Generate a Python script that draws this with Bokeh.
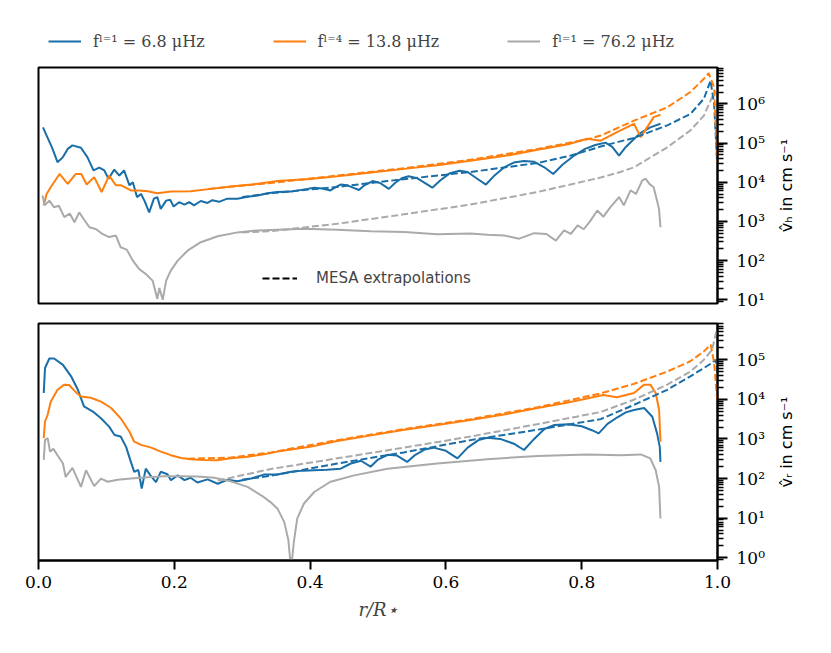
import math
from bokeh.plotting import figure
from bokeh.models import Range1d, FixedTicker, PrintfTickFormatter, CustomJSTickFormatter, Legend, LegendItem, Label
from bokeh.layouts import column, row
from bokeh.embed import file_html
from bokeh.resources import INLINE

# ---------------- data (log10 of velocity amplitude, cm/s) ----------------
# top panel: horizontal velocity
vh_b_r = [0.0066,0.012,0.02,0.028,0.036,0.043,0.050,0.0625,0.072,0.081,0.0895,0.097,0.103,0.1116,0.119,0.126,0.134,0.139,0.145,0.151,0.156,0.163,0.170,0.175,0.180,0.188,0.194,0.199,0.207,0.215,0.222,0.229,0.239,0.249,0.256,0.266,0.278,0.293,0.308,0.323,0.337,0.352,0.372,0.396,0.406,0.418,0.430,0.438,0.445,0.455,0.465,0.472,0.480,0.492,0.503,0.510,0.516,0.525,0.535,0.545,0.558,0.570,0.580,0.592,0.605,0.620,0.632,0.645,0.659,0.672,0.686,0.700,0.715,0.730,0.745,0.758,0.772,0.789,0.805,0.820,0.835,0.845,0.855,0.865,0.877,0.887,0.901,0.916]
vh_b_log = [5.40,5.19,4.88,4.51,4.64,4.85,4.94,4.88,4.64,4.30,4.37,4.30,4.09,4.32,4.17,4.30,3.92,4.00,3.62,3.70,3.53,3.23,3.58,3.62,3.32,3.53,3.55,3.38,3.49,3.43,3.49,3.41,3.52,3.47,3.54,3.50,3.58,3.58,3.63,3.66,3.72,3.75,3.76,3.83,3.86,3.84,3.79,3.88,3.94,3.92,3.85,3.80,3.92,4.03,3.98,3.90,3.83,3.98,4.10,4.15,4.10,3.97,3.86,4.05,4.22,4.29,4.26,4.10,3.94,4.18,4.38,4.50,4.54,4.52,4.38,4.21,4.45,4.68,4.85,4.95,5.01,4.90,4.68,4.90,5.10,5.26,5.40,5.49]
vh_b_mesa_r = [0.30,0.342,0.44,0.514,0.636,0.735,0.784,0.832,0.877,0.926,0.960,0.980,0.9897,0.995,0.9995]
vh_b_mesa_log = [3.62,3.72,3.88,4.03,4.26,4.49,4.68,4.93,5.13,5.45,5.74,6.13,6.59,6.00,4.50]

vh_o_r = [0.0077,0.012,0.018,0.031,0.043,0.055,0.063,0.071,0.082,0.093,0.104,0.114,0.122,0.136,0.148,0.161,0.175,0.195,0.224,0.254,0.283,0.313,0.352,0.40,0.44,0.49,0.539,0.59,0.636,0.69,0.735,0.78,0.808,0.828,0.852,0.877,0.887,0.906,0.916]
vh_o_log = [3.41,3.70,3.87,4.21,3.96,4.21,4.21,3.94,4.13,3.75,4.17,3.92,3.92,3.79,3.79,3.77,3.72,3.76,3.77,3.83,3.89,3.94,4.03,4.08,4.15,4.25,4.34,4.44,4.55,4.68,4.83,4.97,5.11,5.06,5.28,5.49,5.15,5.66,5.72]
vh_o_mesa_r = [0.25,0.342,0.44,0.539,0.636,0.735,0.81,0.828,0.877,0.926,0.960,0.980,0.987,0.995,0.9995]
vh_o_mesa_log = [3.83,3.98,4.17,4.36,4.57,4.85,5.10,5.19,5.57,5.91,6.30,6.64,6.78,6.42,4.50]

vh_g_r = [0.006,0.009,0.016,0.023,0.030,0.038,0.046,0.053,0.060,0.067,0.075,0.085,0.094,0.104,0.114,0.121,0.130,0.139,0.148,0.158,0.168,0.175,0.178,0.183,0.188,0.195,0.205,0.22,0.239,0.264,0.293,0.323,0.352,0.391,0.44,0.489,0.539,0.587,0.636,0.661,0.686,0.708,0.730,0.748,0.762,0.774,0.784,0.794,0.803,0.813,0.823,0.832,0.842,0.855,0.862,0.872,0.880,0.889,0.894,0.900,0.906,0.911,0.914,0.916]
vh_g_log = [3.66,3.41,3.53,3.36,3.40,3.11,3.20,2.98,3.23,3.05,2.85,2.80,2.68,2.60,2.64,2.34,2.28,2.00,1.79,1.66,1.49,1.02,1.30,1.00,1.49,1.75,2.00,2.26,2.47,2.62,2.72,2.77,2.79,2.81,2.79,2.75,2.73,2.67,2.69,2.66,2.64,2.56,2.70,2.68,2.51,2.77,2.68,2.90,2.80,3.02,3.28,3.12,3.36,3.62,3.41,3.79,3.70,4.04,4.09,3.95,3.87,3.53,3.30,2.85]
vh_g_mesa_r = [0.30,0.342,0.44,0.538,0.636,0.735,0.808,0.828,0.857,0.877,0.926,0.960,0.980,0.992,0.9995]
vh_g_mesa_log = [2.72,2.75,2.94,3.18,3.43,3.75,4.04,4.12,4.26,4.38,4.89,5.32,5.70,6.17,6.35]

# bottom panel: radial velocity
vr_b_r = [0.0077,0.0096,0.016,0.023,0.036,0.048,0.058,0.067,0.080,0.092,0.104,0.112,0.121,0.129,0.136,0.141,0.147,0.152,0.158,0.164,0.173,0.180,0.190,0.195,0.205,0.215,0.224,0.234,0.249,0.264,0.278,0.293,0.313,0.332,0.352,0.372,0.390,0.406,0.425,0.445,0.460,0.475,0.489,0.500,0.514,0.528,0.543,0.555,0.570,0.582,0.600,0.617,0.632,0.648,0.661,0.680,0.700,0.715,0.730,0.745,0.759,0.780,0.800,0.815,0.825,0.838,0.852,0.865,0.877,0.892,0.904,0.911,0.915,0.916]
vr_b_log = [4.16,4.79,5.03,5.03,4.87,4.58,4.24,3.82,3.69,3.52,3.31,3.10,3.06,2.80,2.42,2.17,2.22,1.75,2.25,2.10,1.91,2.17,2.11,1.96,2.08,1.96,2.02,1.90,1.98,1.87,1.97,1.93,2.00,2.10,2.10,2.17,2.20,2.21,2.22,2.25,2.38,2.45,2.30,2.48,2.60,2.58,2.42,2.60,2.74,2.78,2.70,2.51,2.78,2.97,3.03,3.00,2.88,2.72,3.00,3.25,3.35,3.37,3.32,3.22,3.14,3.38,3.54,3.67,3.73,3.78,3.56,3.14,2.80,2.42]
vr_b_mesa_r = [0.30,0.342,0.44,0.538,0.636,0.734,0.828,0.877,0.926,0.960,0.980,0.992,0.997,0.9995]
vr_b_mesa_log = [1.97,2.07,2.38,2.66,2.97,3.23,3.50,3.86,4.24,4.58,4.79,4.92,5.00,4.70]

vr_o_r = [0.0077,0.0096,0.0135,0.018,0.028,0.038,0.045,0.055,0.0625,0.077,0.092,0.107,0.121,0.134,0.141,0.151,0.166,0.180,0.195,0.210,0.224,0.244,0.263,0.283,0.308,0.332,0.352,0.40,0.44,0.49,0.539,0.59,0.636,0.69,0.735,0.78,0.832,0.852,0.877,0.892,0.901,0.909,0.914,0.916]
vr_o_log = [3.02,3.44,3.61,3.94,4.24,4.37,4.36,4.18,4.07,4.04,3.94,3.78,3.52,3.18,2.93,2.85,2.78,2.68,2.59,2.52,2.49,2.47,2.46,2.51,2.55,2.61,2.68,2.80,2.95,3.09,3.23,3.36,3.48,3.63,3.78,3.92,4.11,4.05,4.16,4.37,4.37,4.16,3.73,2.93]
vr_o_mesa_r = [0.22,0.283,0.342,0.44,0.539,0.636,0.735,0.828,0.877,0.926,0.960,0.980,0.990,0.995,0.9995]
vr_o_mesa_log = [2.50,2.53,2.66,2.97,3.25,3.50,3.80,4.15,4.39,4.70,4.96,5.21,5.38,4.92,3.99]

vr_g_r = [0.0077,0.0096,0.0135,0.017,0.022,0.028,0.036,0.040,0.050,0.0625,0.070,0.082,0.092,0.102,0.1166,0.136,0.161,0.185,0.210,0.234,0.259,0.283,0.308,0.332,0.342,0.352,0.362,0.368,0.372,0.376,0.381,0.391,0.406,0.43,0.465,0.514,0.587,0.661,0.735,0.808,0.858,0.887,0.901,0.909,0.914,0.916]
vr_g_log = [2.47,2.97,3.02,2.68,2.75,2.59,2.38,2.04,2.27,1.79,2.21,1.81,2.00,1.92,1.97,2.00,2.03,2.06,2.06,2.05,2.02,1.93,1.79,1.53,1.40,1.24,0.90,0.45,-0.30,0.39,0.99,1.37,1.66,1.92,2.08,2.25,2.38,2.49,2.57,2.61,2.59,2.61,2.51,2.21,1.79,0.99]
vr_g_mesa_r = [0.264,0.342,0.44,0.538,0.636,0.734,0.828,0.877,0.926,0.960,0.980,0.992,0.999]
vr_g_mesa_log = [1.95,2.24,2.51,2.78,3.06,3.37,3.68,3.99,4.37,4.70,5.00,5.25,5.76]

labels = ["f\u02e1\u207c\u00b9 = 6.8 \u03bcHz", "f\u02e1\u207c\u2074 = 13.8 \u03bcHz", "f\u02e1\u207c\u00b9 = 76.2 \u03bcHz"]
mesa_label = "MESA extrapolations"
ylabel_top = "v\u0302\u2095 in cm s\u207b\u00b9"
ylabel_bot = "v\u0302\u1d63 in cm s\u207b\u00b9"
xlabel = "r/R\u22c6"

BLUE = "#1a6ea8"
ORANGE = "#ff7f0e"
GRAY = "#aaaaaa"
SERIF = "DejaVu Serif"
SANS = "DejaVu Sans"
NAN = float("nan")

def vals(logs):
    return [10 ** v for v in logs]

sup_code = """
const e = Math.round(Math.log10(tick));
const sup = {'-':'\u207b','0':'\u2070','1':'\u00b9','2':'\u00b2','3':'\u00b3','4':'\u2074','5':'\u2075','6':'\u2076','7':'\u2077','8':'\u2078','9':'\u2079'};
return '10' + String(e).split('').map(c => sup[c]).join('');
"""

def blank_fig(fw, fh, top, bottom, left=0, right=0):
    q = figure(frame_width=fw, frame_height=fh, x_range=Range1d(0, 1), y_range=Range1d(0, 1),
               x_axis_location=None, y_axis_location=None, output_backend="svg",
               toolbar_location=None, min_border_left=left, min_border_right=right,
               min_border_top=top, min_border_bottom=bottom)
    q.grid.visible = False
    q.outline_line_color = None
    return q

def make_fig(ylo, yhi, fh, top, bottom, decades):
    p = figure(frame_width=679, frame_height=fh, x_range=Range1d(0, 1),
               y_range=Range1d(10 ** ylo, 10 ** yhi), y_axis_type="log",
               y_axis_location="right", output_backend="svg", toolbar_location=None,
               min_border_left=38, min_border_right=57, min_border_top=top,
               min_border_bottom=bottom)
    p.grid.visible = False
    p.outline_line_color = "black"
    p.outline_line_width = 2
    p.outline_line_alpha = 1
    ya = p.yaxis[0]
    ya.ticker = FixedTicker(ticks=[10 ** k for k in decades],
                            minor_ticks=[m * 10 ** k for k in range(decades[0] - 1, decades[-1] + 1) for m in range(2, 10)])
    ya.formatter = CustomJSTickFormatter(code=sup_code)
    ya.major_tick_out = 10
    ya.major_tick_in = 0
    ya.minor_tick_out = 6
    ya.minor_tick_in = 0
    ya.major_tick_line_width = 2
    ya.minor_tick_line_width = 1.5
    ya.axis_line_width = 2
    ya.major_label_standoff = 9
    ya.major_label_text_font = SERIF
    ya.major_label_text_font_size = "17px"
    ya.major_label_text_color = "black"
    return p

# legend strip on top
p0 = blank_fig(679, 57, 0, 0, left=38, right=57)
g0b = p0.line([NAN], [NAN], color=BLUE, line_width=2)
g0o = p0.line([NAN], [NAN], color=ORANGE, line_width=2)
g0g = p0.line([NAN], [NAN], color=GRAY, line_width=2)
leg = Legend(items=[LegendItem(label=labels[0], renderers=[g0b]),
                    LegendItem(label=labels[1], renderers=[g0o]),
                    LegendItem(label=labels[2], renderers=[g0g])],
             location=(10, 6), orientation="horizontal", padding=0, margin=0,
             spacing=68, glyph_width=33, glyph_height=20, label_standoff=12,
             label_text_font=SERIF, label_text_font_size="16px",
             border_line_color=None, background_fill_alpha=0)
p0.add_layout(leg, "center")

p1 = make_fig(0.906, 6.926, 236, 10, 10, list(range(1, 7)))
p1.xaxis.visible = False
p2 = make_fig(-0.068, 5.913, 237, 10, 65, list(range(0, 6)))

xa = p2.xaxis[0]
xa.ticker = FixedTicker(ticks=[0.0, 0.2, 0.4, 0.6, 0.8, 1.0], minor_ticks=[])
xa.formatter = PrintfTickFormatter(format="%.1f")
xa.major_tick_out = 9
xa.major_tick_in = 0
xa.major_tick_line_width = 2
xa.axis_line_width = 2
xa.major_label_standoff = 6
xa.major_label_text_font = SERIF
xa.major_label_text_font_size = "17px"
xa.major_label_text_color = "black"
xa.axis_label = xlabel
xa.axis_label_text_font = SERIF
xa.axis_label_text_font_style = "italic"
xa.axis_label_text_font_size = "18px"
xa.axis_label_standoff = 8

DASH = "7 3"

# top panel lines
p1.line(vh_b_r, vals(vh_b_log), color=BLUE, line_width=2)
p1.line(vh_o_r, vals(vh_o_log), color=ORANGE, line_width=2)
p1.line(vh_g_r, vals(vh_g_log), color=GRAY, line_width=2)
p1.line(vh_g_mesa_r, vals(vh_g_mesa_log), color=GRAY, line_width=2, line_dash=DASH)
p1.line(vh_b_mesa_r, vals(vh_b_mesa_log), color=BLUE, line_width=2, line_dash=DASH)
p1.line(vh_o_mesa_r, vals(vh_o_mesa_log), color=ORANGE, line_width=2, line_dash=DASH)
lm = p1.line([NAN], [NAN], color="black", line_width=2, line_dash=DASH)

# bottom panel lines
p2.line(vr_b_r, vals(vr_b_log), color=BLUE, line_width=2)
p2.line(vr_o_r, vals(vr_o_log), color=ORANGE, line_width=2)
p2.line(vr_g_r, vals(vr_g_log), color=GRAY, line_width=2)
p2.line(vr_g_mesa_r, vals(vr_g_mesa_log), color=GRAY, line_width=2, line_dash=DASH)
p2.line(vr_b_mesa_r, vals(vr_b_mesa_log), color=BLUE, line_width=2, line_dash=DASH)
p2.line(vr_o_mesa_r, vals(vr_o_mesa_log), color=ORANGE, line_width=2, line_dash=DASH)

leg2 = Legend(items=[LegendItem(label=mesa_label, renderers=[lm])],
              location=(224, 15), orientation="horizontal", padding=0, margin=0,
              glyph_width=35, glyph_height=20, label_standoff=19,
              label_text_font=SANS, label_text_font_size="15px",
              border_line_color=None, background_fill_alpha=0)
p1.add_layout(leg2, "center")

# y-axis titles (reading bottom to top) in narrow strips right of the panels
q1 = blank_fig(24, 236, 10, 10)
q1.add_layout(Label(x=12, y=118, x_units="screen", y_units="screen", text=ylabel_top,
                    angle=90, angle_units="deg", text_align="center", text_baseline="middle",
                    text_font=SANS, text_font_size="16px", text_color="black"))
q2 = blank_fig(24, 237, 10, 65)
q2.add_layout(Label(x=12, y=118.5, x_units="screen", y_units="screen", text=ylabel_bot,
                    angle=90, angle_units="deg", text_align="center", text_baseline="middle",
                    text_font=SANS, text_font_size="16px", text_color="black"))

layout = column(p0, row(p1, q1), row(p2, q2))
open("out.html", "w").write(file_html(layout, INLINE))
